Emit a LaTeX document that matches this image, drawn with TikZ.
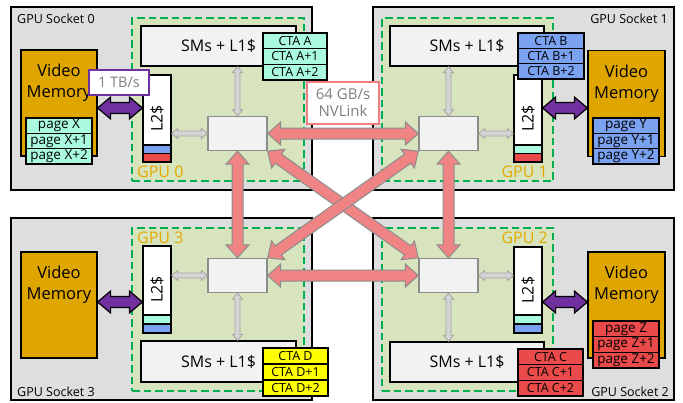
\documentclass[tikz,border=0pt]{standalone}
\usepackage{fontspec}
\setmainfont{Open Sans}
\usetikzlibrary{calc}
\definecolor{sockfill}{RGB}{222,222,222}
\definecolor{gfill}{RGB}{216,228,190}
\definecolor{dgreen}{RGB}{0,176,80}
\definecolor{boxgray}{RGB}{242,242,242}
\definecolor{xgray}{RGB}{140,140,140}
\definecolor{vmgold}{RGB}{224,166,0}
\definecolor{gpugold}{RGB}{228,170,0}
\definecolor{ccyan}{RGB}{170,250,222}
\definecolor{cblue}{RGB}{122,162,240}
\definecolor{cred}{RGB}{234,74,74}
\definecolor{cyellow}{RGB}{255,255,0}
\definecolor{purp}{RGB}{112,48,160}
\definecolor{nvred}{RGB}{240,132,132}
\definecolor{redline}{RGB}{140,140,140}
\definecolor{agray}{RGB}{212,212,212}
\definecolor{agrayline}{RGB}{165,165,165}
\definecolor{txtgray}{RGB}{128,128,128}
\definecolor{pinkline}{RGB}{240,128,128}
\begin{document}
\begin{tikzpicture}[x=1pt,y=-1pt,
  sock/.style={draw=black, line width=2pt, fill=sockfill, minimum width=301pt, minimum height=183pt, inner sep=0},
  gpu/.style={draw=dgreen, dash pattern=on 7.5pt off 4pt, line width=2.2pt, fill=gfill, minimum width=172pt, minimum height=163pt, inner sep=0},
  smbox/.style={draw=black, line width=1.2pt, fill=boxgray, minimum width=155pt, minimum height=40pt, inner sep=0, font=\fontsize{16}{19}\selectfont},
  xbar/.style={draw=xgray, line width=1.3pt, fill=boxgray, minimum width=59pt, minimum height=34pt, inner sep=0},
  ltwo/.style={draw=black, line width=1.2pt, fill=white, minimum width=28pt, minimum height=87pt, inner sep=0},
  ltwotext/.style={rotate=90, inner sep=0, font=\fontsize{16}{19}\selectfont},
  strip/.style={draw=black, line width=1.2pt},
  vmem/.style={draw=black, line width=1.2pt, fill=vmgold, minimum width=76pt, minimum height=106pt, inner sep=0},
  vmtext/.style={align=center, inner sep=0, font=\fontsize{16.5}{21}\selectfont},
  cell/.style={draw=black, line width=1.2pt, minimum width=65pt, minimum height=15.6pt, inner sep=0, font=\fontsize{12.5}{14}\selectfont},
  pagecell/.style={draw=black, line width=1.2pt, minimum width=66pt, minimum height=15.4pt, inner sep=0, font=\fontsize{13.5}{15}\selectfont},
  gpulabel/.style={inner sep=0, text=gpugold, font=\fontsize{16}{19}\selectfont},
  socklabel/.style={inner sep=0, font=\fontsize{12.5}{15}\selectfont},
  fat/.style n args={3}{to path={
    -- ($(\tikztostart)!#3!(\tikztotarget)!#1!90:(\tikztotarget)$)
    -- ($(\tikztostart)!#3!(\tikztotarget)!#2!90:(\tikztotarget)$)
    -- ($(\tikztotarget)!#3!(\tikztostart)!#2!-90:(\tikztostart)$)
    -- ($(\tikztotarget)!#3!(\tikztostart)!#1!-90:(\tikztostart)$)
    -- (\tikztotarget)
    -- ($(\tikztotarget)!#3!(\tikztostart)!#1!90:(\tikztostart)$)
    -- ($(\tikztotarget)!#3!(\tikztostart)!#2!90:(\tikztostart)$)
    -- ($(\tikztostart)!#3!(\tikztotarget)!#2!-90:(\tikztotarget)$)
    -- ($(\tikztostart)!#3!(\tikztotarget)!#1!-90:(\tikztotarget)$)
    -- cycle}},
  redarrow/.style={fill=nvred, draw=redline, line width=1pt, line join=miter, fat={11.5pt}{5.5pt}{13pt}},
  grayarrow/.style={fill=agray, draw=agrayline, line width=0.8pt, fat={5pt}{2.5pt}{6pt}},
  purparrow/.style={fill=purp, draw=black, line width=1.2pt, fat={11pt}{5.5pt}{13pt}},
]
\useasboundingbox (0,0) rectangle (683,402);

% sockets
\node[sock] (sk0) at (161.5,98) {};
\node[sock] (sk1) at (523.5,98) {};
\node[sock, minimum height=182pt] (sk3) at (161.5,309) {};
\node[sock, minimum height=182pt] (sk2) at (523.5,309) {};

% GPU regions
\node[gpu] (g0) at (218,99.5) {};
\node[gpu, minimum width=171pt] (g1) at (467.5,99.5) {};
\node[gpu] (g3) at (218,309.5) {};
\node[gpu, minimum width=171pt] (g2) at (467.5,309.5) {};

% SMs
\node[smbox] (s0) at (218.5,46) {SMs + L1\$};
\node[smbox, minimum width=154pt] (s1) at (467,46) {SMs + L1\$};
\node[smbox, minimum height=41pt] (s3) at (218.5,361.5) {SMs + L1\$};
\node[smbox, minimum width=154pt] (s2) at (467,362) {SMs + L1\$};

% crossbars
\node[xbar] (c0) at (237.5,133.5) {};
\node[xbar] (c1) at (448.5,133.5) {};
\node[xbar] (c3) at (237.5,275.5) {};
\node[xbar] (c2) at (448.5,275.5) {};

% L2 caches
\node[ltwo] (l20) at (157,118.5) {};
\node[ltwo] (l21) at (528,118.5) {};
\node[ltwo] (l23) at (157,289.5) {};
\node[ltwo, minimum height=86pt] (l22) at (528,290) {};
\draw[strip, fill=cblue] (143,145) rectangle (171,153.5);
\draw[strip, fill=cred] (143,153.5) rectangle (171,162);
\draw[strip, fill=ccyan] (514,145) rectangle (542,153.5);
\draw[strip, fill=cred] (514,153.5) rectangle (542,162);
\draw[strip, fill=ccyan] (143,315) rectangle (171,324);
\draw[strip, fill=cblue] (143,324) rectangle (171,333);
\draw[strip, fill=ccyan] (514,315) rectangle (542,324);
\draw[strip, fill=cblue] (514,324) rectangle (542,333);
\node[ltwotext] (t20) at (l20) {L2\$};
\node[ltwotext] (t21) at (l21) {L2\$};
\node[ltwotext] (t23) at (l23) {L2\$};
\node[ltwotext] (t22) at (l22) {L2\$};

% video memories
\node[vmem] (vm0) at (59,103) {};
\node[vmem, minimum width=77pt] (vm1) at (626.5,103.5) {};
\node[vmem] (vm3) at (59,305) {};
\node[vmem, minimum width=77pt] (vm2) at (626.5,305) {};
\node[vmtext] (vt0) at (59,83) {Video\\Memory};
\node[vmtext] (vt1) at (626.5,84) {Video\\Memory};
\node[vmtext] (vt3) at (59,285) {Video\\Memory};
\node[vmtext] (vt2) at (626.5,285) {Video\\Memory};

% pages
\node[pagecell, fill=ccyan] (px0) at (59,125.7) {page X};
\node[pagecell, fill=ccyan] (px1) at (59,141) {page X+1};
\node[pagecell, fill=ccyan] (px2) at (59,156.3) {page X+2};
\node[pagecell, fill=cblue] (py0) at (626,125.7) {page Y};
\node[pagecell, fill=cblue] (py1) at (626,141) {page Y+1};
\node[pagecell, fill=cblue] (py2) at (626,156.3) {page Y+2};
\node[pagecell, fill=cred, minimum height=15.7pt] (pz0) at (626,328.8) {page Z};
\node[pagecell, fill=cred, minimum height=15.7pt] (pz1) at (626,344.5) {page Z+1};
\node[pagecell, fill=cred, minimum height=15.7pt] (pz2) at (626,360.2) {page Z+2};

% gray internal arrows
\path[grayarrow] (s0.south -| c0) to (c0.north);
\path[grayarrow] (l20.east |- c0) to (c0.west);
\path[grayarrow] (s1.south -| c1) to (c1.north);
\path[grayarrow] (c1.east) to (l21.west |- c1);
\path[grayarrow] (c3.south) to (s3.north -| c3);
\path[grayarrow] (l23.east |- c3) to (c3.west);
\path[grayarrow] (c2.south) to (s2.north -| c2);
\path[grayarrow] (c2.east) to (l22.west |- c2);

% memory links
\coordinate (mt) at (0,108);
\coordinate (mb) at (0,302);
\path[purparrow] (vm0.east |- mt) to (l20.west |- mt);
\path[purparrow] (l21.east |- mt) to (vm1.west |- mt);
\path[purparrow] (vm3.east |- mb) to (l23.west |- mb);
\path[purparrow] (l22.east |- mb) to (vm2.west |- mb);

% NVLink arrows
\path[redarrow] (c0.east) to (c1.west);
\path[redarrow] (c3.east) to (c2.west);
\path[redarrow] (c0.south) to (c3.north);
\path[redarrow] (c1.south) to (c2.north);
\path[redarrow] (c0.south east) to (c2.north west);
\path[redarrow] (c1.south west) to (c3.north east);

% CTA stacks
\node[cell, fill=ccyan, minimum width=64pt] (ca0) at (295,40.8) {CTA A};
\node[cell, fill=ccyan, minimum width=64pt] (ca1) at (295,56.5) {CTA A+1};
\node[cell, fill=ccyan, minimum width=64pt] (ca2) at (295,72.2) {CTA A+2};
\node[cell, fill=cblue, minimum width=66pt, minimum height=15.4pt] (cb0) at (551,40.7) {CTA B};
\node[cell, fill=cblue, minimum width=66pt, minimum height=15.4pt] (cb1) at (551,56) {CTA B+1};
\node[cell, fill=cblue, minimum width=66pt, minimum height=15.4pt] (cb2) at (551,71.3) {CTA B+2};
\node[cell, fill=cyellow, minimum height=16pt] (cd0) at (295.5,356) {CTA D};
\node[cell, fill=cyellow, minimum height=16pt] (cd1) at (295.5,372) {CTA D+1};
\node[cell, fill=cyellow, minimum height=16pt] (cd2) at (295.5,388) {CTA D+2};
\node[cell, fill=cred] (cc0) at (550.5,356.8) {CTA C};
\node[cell, fill=cred] (cc1) at (550.5,372.5) {CTA C+1};
\node[cell, fill=cred] (cc2) at (550.5,388.2) {CTA C+2};

% bandwidth labels
\node[draw=purp, line width=2.8pt, fill=white, text=txtgray, minimum width=60pt, minimum height=25pt, inner sep=0, font=\fontsize{14.5}{17}\selectfont] (tb) at (119,82.5) {1 TB/s};
\node[draw=pinkline, line width=2.8pt, fill=white, text=txtgray, minimum width=72pt, minimum height=42pt, inner sep=0, align=center, font=\fontsize{15}{17}\selectfont] (nv) at (343,103) {64 GB/s\\NVLink};

% GPU labels
\node[gpulabel, anchor=west] (gl0) at (137,172) {GPU 0};
\node[gpulabel, anchor=east] (gl1) at (548,172) {GPU 1};
\node[gpulabel, anchor=west] (gl3) at (137,237.5) {GPU 3};
\node[gpulabel, anchor=east] (gl2) at (548,237.5) {GPU 2};

% socket labels
\node[socklabel, anchor=west] (sl0) at (17,19) {GPU Socket 0};
\node[socklabel, anchor=east] (sl1) at (668,19) {GPU Socket 1};
\node[socklabel, anchor=west] (sl3) at (17,391.5) {GPU Socket 3};
\node[socklabel, anchor=east] (sl2) at (669,391.5) {GPU Socket 2};
\end{tikzpicture}
\end{document}
